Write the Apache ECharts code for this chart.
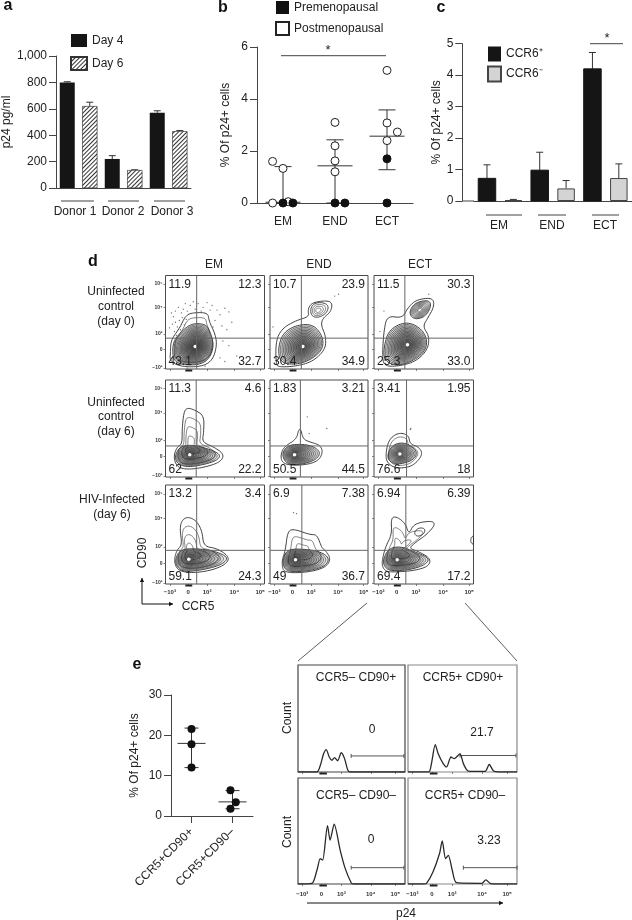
<!DOCTYPE html>
<html><head><meta charset="utf-8"><style>html,body{margin:0;background:#fff}#c{width:632px;height:920px}</style>
<script src="https://cdn.jsdelivr.net/npm/echarts@6/dist/echarts.min.js"></script></head>
<body><div id="c"></div><script>
// ---------- panel a
const aCats=['D1-4','D1-6','D2-4','D2-6','D3-4','D3-6'];
const aDay4=[800,null,220,null,570,null];
const aDay6=[null,620,null,135,null,430];
const aTops=[805,650,245,138,585,435];
const aGroups=['Donor 1','Donor 2','Donor 3'];
// ---------- panel b
const bCats=['EM','END','ECT'];
const bPost=[[0.3,1.6],[0.5,1.33],[0.3,0],[0.6,0.05],[1.5,3.1],[1.5,2.2],[1.5,1.62],[1.5,1.2],[2.5,5.1],[2.5,3.08],[2.7,2.73],[2.5,2.4]];
const bPre=[[0.5,0],[0.69,0],[1.5,0],[1.69,0],[2.5,1.7],[2.5,0]];
const bSummary=[[0.5,0,0.03,1.4],[1.5,0,1.43,2.43],[2.5,1.28,2.57,3.58]];
// ---------- panel c
const cCats=['EM+','EM-','END+','END-','ECT+','ECT-'];
const cPlus=[0.72,null,0.98,null,4.2,null];
const cMinus=[null,0.03,null,0.4,null,0.73];
const cTops=[1.15,0.05,1.55,0.65,4.72,1.18];
// ---------- panel d: quadrant percentages (UL, UR, LL, LR)
const dColumns=['EM','END','ECT'];
const dQuad=[
 ['11.9','12.3','43.1','32.7'],['10.7','23.9','30.4','34.9'],['11.5','30.3','25.3','33.0'],
 ['11.3','4.6','62','22.2'],['1.83','3.21','50.5','44.5'],['3.41','1.95','76.6','18'],
 ['13.2','3.4','59.1','24.3'],['6.9','7.38','49','36.7'],['6.94','6.39','69.4','17.2']];
const dGates=[[31.5,33],[32,33],[31,33],[31,32],[31,32],[32.7,32],[31.5,34],[32.5,34],[32,34]];
const dTickX=[4.4,22.8,42,69.5,95.6];
const dTickY=[1,21,37.5,66,91];
const dTickText=['−10³','0','10³','10⁴','10⁵'];
// contour outlines, in display channels (0–100)
const c00out=[[5,17],[5.4,31],[14.5,44],[20.6,58],[30,60.5],[43,60],[44,51],[50,38],[52,26],[48,10],[38,3],[21,2],[9.5,5],[4.4,10]];
const c00in=[[7,16],[8,30],[16,40],[24,47],[32,49],[42,47],[45,38],[49,26],[45,12],[36,5],[21,4],[10,7]];
const c01out=[[6,5],[6,31],[13,44],[27,52],[40,56],[38.5,63],[42,70.5],[54,73],[63.5,72],[62.5,61.5],[54,54.5],[52,47],[57,35],[56.6,21],[43.7,8],[27,3],[9.5,2]];
const c01in=[[8,21],[13,38.5],[27,47],[43.7,48],[54,35],[54,21],[42,10],[27,4.6],[11,6.4]];
const c01top=[[41,63],[44,70],[53,71.5],[60,68],[58,60],[50,55],[43,56]];
const c02out=[[8.4,15],[10,42],[13.5,57],[28.6,54.4],[33.7,65],[42,74],[59,76.5],[60.6,67],[54,54.4],[49,45.5],[55.6,35],[54,20.6],[42,8],[25,3],[10,3]];
const c02in=[[10,24],[15,42],[32,51],[47,44],[54,31],[50.5,17],[35,6.4],[20,3.5],[10,10]];
const c02top=[[35,60],[40.4,70.5],[54,74],[58,68.7],[52,56],[40.4,52.7]];
const c10out=[[8.4,22],[11.7,31],[16.8,34],[16.8,50],[18.5,67],[22,71.5],[30,69],[39,63],[38.6,46],[37,36],[48.7,31],[58.7,24],[57,17],[47,12],[28.5,8],[15,8.6],[10,13.7]];
const c10in=[[9.4,22],[15,32],[28.5,33],[45,28.5],[56,23],[52,17],[38.6,12.7],[22,10],[11.7,13.7]];
const c11out=[[10.8,22],[14,31],[27,39],[29,48],[31.3,50],[33.7,39],[41,36],[51,33],[54,26],[49.8,17],[38,12.7],[21,12],[12.5,14.7]];
const c11in=[[11.8,23],[17.5,32.6],[31,34],[44,32],[52,25],[46,17],[31,12.7],[17.5,12.7]];
const c12out=[[11.7,24],[15,39],[25,46],[35,43],[36,34],[45,31],[49,24],[43,15],[35,10],[21.7,9],[13,14.7]];
const c12in=[[13.4,23],[18.3,33],[30,36],[41.7,29],[43,22],[36.7,16],[23,12.7],[15,16.5]];
const c20out=[[9,26],[11.7,34.6],[16.8,39.6],[14.4,56],[16.8,65],[23.5,68],[32,63],[37,53],[38.6,38],[52,36],[64,28],[62.4,21],[49,14.4],[28.5,11],[15,12.8],[10,17.8]];
const c20in=[[10,26],[15,34.6],[28.5,36],[48.7,33.6],[64,27],[57,19.5],[38.6,14.4],[18.5,12],[11,17.8]];
const c21out=[[12.5,24.5],[15.8,34.6],[18,53],[24,55.7],[41,49.7],[48,50],[53,36],[56,34.6],[62,26],[58,17.8],[44.4,12.8],[24,11],[14,12.8],[12.5,17.8]];
const c21in=[[13,25],[17.5,34.6],[31,35.6],[51,33],[61,26],[56,17.8],[41,13.4],[21,12],[14,16]];
const c22out=[[8.3,24.5],[11.7,38],[18,50],[17,67],[23,68],[31.7,61],[35,50],[40,61],[58,64],[61.7,60],[53,50],[43,43],[35,36],[43,33.6],[57,26],[55,17.8],[40,13.4],[20,12],[11.7,12.8],[8.3,17.8]];
const c22in=[[9.3,25.5],[15,36],[26.7,38],[40,33],[56,26],[51.7,19.5],[36.7,14.4],[16.7,12.8],[10,17.8]];
const c22lobe=[[40,52],[45,57],[51.7,56],[50,50],[43,47.7]];
const c22edge=[[97,44],[98,47.5],[100,48.5],[100,40],[98,41]];
const dDots0=[[10,50],[12,45],[8,56],[14,52],[16,60],[13,66],[18,64],[20,70],[22,62],[25,68],[10,62],[7,48],[28,72],[33,70],[38,66],[42,71],[47,68],[52,63],[55,58],[60,65],[64,61],[50,52],[57,46],[48,45],[62,42],[17,55],[21,53],[15,42],[9,40],[30,64],[36,62],[45,63],[67,50],[55,12],[60,8],[72,14],[64,25],[40,3],[22,1],[58,30],[4,44],[11,36],[6,60],[19,47]];
const dDots=[dDots0,[[66,78],[70,80],[3,45]],[[10,62],[6,40],[55,80]],[],[[38,62],[40,45],[58,50]],[[37,50],[36.5,49]],[],[[24,72],[27,71]],[]];
// ---------- panel e
const eCats=['CCR5+CD90+','CCR5+CD90–'];
const ePoints=[[0.5,21.6],[0.5,17.8],[0.5,12],[1.45,6.4],[1.58,3.4],[1.45,1.8]];
const eSummary=[[0.5,12,18,21.8],[1.5,1.8,3.5,6.3]];
// ---------- histograms
const hTitles=['CCR5– CD90+','CCR5+ CD90+','CCR5– CD90–','CCR5+ CD90–'];
const hValues=['0','21.7','0','3.23'];
const histTL=[[0,0],[17.7,0],[20.8,6],[23.9,17],[26.4,21],[29.2,14],[31.7,11],[34.2,13.5],[37,10.5],[40.4,18],[43.5,12.5],[46.6,1.6],[48.8,0],[100,0]];
const histTR=[[0,0],[19,0],[21.5,7.8],[25,25.6],[27.7,17],[32.3,7.8],[35.4,4.7],[39.4,14],[42.5,12.5],[47.7,17],[50.8,7.8],[55.4,0.9],[70.8,0.6],[74.5,7],[78.5,0.9],[83,0],[100,0]];
const histBL=[[0,0],[13,0.6],[17.7,13],[20.8,24],[23,22.5],[27.6,55],[30,41.4],[33.8,56.4],[39.4,32],[44,15],[49.7,1.2],[52,0],[100,0]];
const histBR=[[0,0],[14,0],[17,0.6],[23,11.6],[29,29],[31.4,40.7],[34.5,24],[37,27],[40.6,13],[44.6,1.2],[67.7,0.6],[71.4,3.8],[75.4,0.6],[78,0],[100,0]];
const hGates=[[49.7,99,15],[47.7,99,15.4],[49.7,99,15.4],[50.8,100,15.4]];
const hTickX=[4,22,40.5,68,91];

const FONT='"Liberation Sans",Arial,sans-serif', INK='#222', AX='#444';
const grids=[],xA=[],yA=[],series=[],gfx=[];
function addGrid(l,t,w,h,x,y,extra){grids.push(Object.assign({left:l,top:t,width:w,height:h,containLabel:false},extra||{}));const i=grids.length-1;xA.push(Object.assign({gridIndex:i},x));yA.push(Object.assign({gridIndex:i},y));return i;}
function txt(x,y,t,o){o=o||{};gfx.push({type:'text',x,y,rotation:o.rot||0,silent:true,z:30,style:{text:t,fill:o.fill||INK,font:(o.weight||'normal')+' '+(o.size||12)+'px '+FONT,textAlign:o.align||'center',textVerticalAlign:'middle'}});}
function seg(x1,y1,x2,y2,c,w){gfx.push({type:'line',silent:true,z:5,shape:{x1,y1,x2,y2},style:{stroke:c||AX,lineWidth:w||1}});}
function arrow(x1,y1,x2,y2){seg(x1,y1,x2,y2,'#111',1);const a=Math.atan2(y2-y1,x2-x1),s=4.5;gfx.push({type:'polygon',silent:true,z:6,shape:{points:[[x2,y2],[x2-s*Math.cos(a-.5),y2-s*Math.sin(a-.5)],[x2-s*Math.cos(a+.5),y2-s*Math.sin(a+.5)]]},style:{fill:'#111'}});}
function custom(g,data,render,z){return {type:'custom',xAxisIndex:g,yAxisIndex:g,data,renderItem:render,silent:true,z:z||3,encode:{x:0,y:1},animation:false};}
const line=(a,b,c,w)=>({type:'line',shape:{x1:a[0],y1:a[1],x2:b[0],y2:b[1]},style:{stroke:c||'#333',lineWidth:w||1}});
const yBase=(o)=>Object.assign({type:'value',axisLine:{show:true,lineStyle:{color:AX,width:1}},axisTick:{show:true,length:7,lineStyle:{color:AX}},splitLine:{show:false},axisLabel:{color:INK,fontSize:12,fontFamily:FONT,margin:9},nameLocation:'middle',nameTextStyle:{color:INK,fontSize:12,fontFamily:FONT}},o);
function errRender(g,i,api){const x=api.value(0),top=api.value(1),v=api.value(2);const a=api.coord([x,v]),b=api.coord([x,top]);return {type:'group',children:[line(a,b),line([b[0]-3.5,b[1]],[b[0]+3.5,b[1]])]};}
function sumRender(medHalf,capHalf,p,api){const x=api.value(0),lo=api.value(1),mid=api.value(2),hi=api.value(3);const L=api.coord([x,lo]),M=api.coord([x,mid]),H=api.coord([x,hi]);return {type:'group',children:[line(L,H),line([L[0]-capHalf,L[1]],[L[0]+capHalf,L[1]]),line([H[0]-capHalf,H[1]],[H[0]+capHalf,H[1]]),line([M[0]-medHalf,M[1]],[M[0]+medHalf,M[1]])]};}

// ===== a
const gA=addGrid(56,56,135,132,
 {type:'category',data:aCats,axisLine:{lineStyle:{color:AX}},axisTick:{alignWithLabel:true,length:7,lineStyle:{color:AX}},axisLabel:{show:false}},
 yBase({min:0,max:1000,interval:200,name:'p24 pg/ml',nameGap:41,axisLabel:{color:INK,fontSize:12,fontFamily:FONT,margin:9,formatter:v=>v.toLocaleString('en-US')}}));
series.push({type:'bar',name:'Day 4',xAxisIndex:gA,yAxisIndex:gA,data:aDay4,barWidth:15,barGap:'-100%',itemStyle:{color:'#151515'},animation:false});
series.push({type:'bar',name:'Day 6',xAxisIndex:gA,yAxisIndex:gA,data:aDay6,barWidth:15,barGap:'-100%',animation:false,itemStyle:{color:'#fff',borderColor:'#333',borderWidth:.5,decal:{symbol:'rect',dashArrayX:[1,0],dashArrayY:[1,2],rotation:-Math.PI/4,color:'#333',backgroundColor:'#fff'}}});
series.push(custom(gA,aTops.map((t,i)=>[i,t,(aDay4[i]!==null?aDay4[i]:aDay6[i])]),(p,api)=>errRender(gA,p.dataIndex,api),1));
[[61,94,75],[108,139,123],[154,185,172]].forEach((u,i)=>{seg(u[0],201,u[1],201);txt(u[2],212,aGroups[i]);});

// ===== b
const gB=addGrid(257,47,156,156,
 {type:'value',min:0,max:3,axisLine:{lineStyle:{color:AX}},axisTick:{show:false},splitLine:{show:false},axisLabel:{customValues:[0.5,1.5,2.5],color:INK,fontSize:12,fontFamily:FONT,margin:13,formatter:v=>bCats[Math.round(v-0.5)]}},
 yBase({min:0,max:6,interval:2,name:'% Of p24+ cells',nameGap:25}));
series.push(custom(gB,bSummary,(p,api)=>sumRender(17.5,8.5,p,api),1));
series.push({type:'scatter',name:'Postmenopausal',xAxisIndex:gB,yAxisIndex:gB,data:bPost,symbolSize:8,z:4,animation:false,itemStyle:{color:'#fff',borderColor:'#222',borderWidth:1,opacity:1}});
series.push({type:'scatter',name:'Premenopausal',xAxisIndex:gB,yAxisIndex:gB,data:bPre,symbolSize:8,z:4,animation:false,itemStyle:{color:'#111',borderColor:'#111',opacity:1}});
seg(281,55.7,386,55.7);txt(328,50,'*',{size:13});

// ===== c
const gC=addGrid(473.8,43.7,158.2,157.3,
 {type:'category',data:cCats,axisLine:{lineStyle:{color:AX}},axisTick:{alignWithLabel:true,length:7,lineStyle:{color:AX}},axisLabel:{show:false}},
 yBase({min:0,max:5,interval:1,offset:11.5,name:'% Of p24+ cells',nameGap:15}));
series.push({type:'bar',name:'CCR6⁺',xAxisIndex:gC,yAxisIndex:gC,data:cPlus,barWidth:17.5,barGap:'-100%',animation:false,itemStyle:{color:'#151515',borderColor:'#151515'}});
series.push({type:'bar',name:'CCR6⁻',xAxisIndex:gC,yAxisIndex:gC,data:cMinus,barWidth:17.5,barGap:'-100%',animation:false,itemStyle:{color:'#d4d4d4',borderColor:'#444',borderWidth:1}});
series.push(custom(gC,cTops.map((t,i)=>[i,t,(cPlus[i]!==null?cPlus[i]:cMinus[i])]),(p,api)=>errRender(gC,p.dataIndex,api),1));
seg(462.5,201,474,201);
[[486,522,499],[538,566,552],[592,619,605]].forEach((u,i)=>{seg(u[0],215,u[1],215);txt(u[2],226,bCats[i]);});
seg(590,43.7,623,43.7);txt(607,38,'*',{size:13});

// ===== e
const gE=addGrid(171,695,82,121,
 {type:'value',min:0,max:2,axisLine:{lineStyle:{color:AX}},splitLine:{show:false},axisTick:{customValues:[0.5,1.5],length:7,lineStyle:{color:AX}},axisLabel:{customValues:[0.5,1.5],rotate:45,color:INK,fontSize:12,fontFamily:FONT,margin:14,formatter:v=>eCats[Math.round(v-0.5)]}},
 yBase({min:0,max:30,interval:10,name:'% Of p24+ cells',nameGap:30}));
series.push(custom(gE,eSummary,(p,api)=>sumRender(14,7,p,api),1));
series.push({type:'scatter',xAxisIndex:gE,yAxisIndex:gE,data:ePoints,symbolSize:8,z:4,animation:false,itemStyle:{color:'#111',opacity:1}});

// ===== d
const colX=[[165.5,99],[270,98],[374,99.5]],rowY=[[275.5,93.5],[380,97],[485,99]];
const lobes=[
 [{p:c00out,n:2,c:[30,30]},{p:c00in,n:17,c:[30,24],peak:1}],
 [{p:c01out,n:1,c:[33,28]},{p:c01in,n:14,c:[33.5,24],peak:1},{p:c01top,n:4,c:[49,62.6]}],
 [{p:c02out,n:1,c:[33,28]},{p:c02in,n:15,c:[33.7,26],peak:1},{p:c02top,n:9,c:[46,63]}],
 [{p:c10out,n:4,c:[25,30]},{p:c10in,n:12,c:[24.5,23],peak:1}],
 [{p:c11out,n:1,c:[28,25]},{p:c11in,n:12,c:[25,23],peak:1}],
 [{p:c12out,n:2,c:[26,24]},{p:c12in,n:11,c:[26,23.7],peak:1}],
 [{p:c20out,n:4,c:[24,30]},{p:c20in,n:12,c:[23.5,25],peak:1}],
 [{p:c21out,n:3,c:[32.6,32]},{p:c21in,n:13,c:[26,24.5],peak:1}],
 [{p:c22out,n:3,c:[23,33]},{p:c22in,n:12,c:[23.3,24.5],peak:1},{p:c22lobe,n:1,c:[45,52]},{p:c22edge,n:1,c:[98,44]}]
];
function rounded(pts){let cur=pts;for(let it=0;it<3;it++){const nx=[];for(let i=0;i<cur.length;i++){const a=cur[i],b=cur[(i+1)%cur.length];nx.push([a[0]*.75+b[0]*.25,a[1]*.75+b[1]*.25],[a[0]*.25+b[0]*.75,a[1]*.25+b[1]*.75]);}cur=nx;}return cur;}
function lobeRender(list){return (p,api)=>{const l=list[p.dataIndex],ch=[],fine=l.peak;
 for(let k=0;k<l.n;k++){const t=(l.n===1?0:k/l.n)*(l.n>2?0.93:0.35);
  const pts=rounded(l.p).map(q=>api.coord([q[0]+(l.c[0]-q[0])*t,q[1]+(l.c[1]-q[1])*t]));
  ch.push({type:'polygon',shape:{points:pts},style:{fill:fine?'rgba(30,30,30,0.07)':'none',stroke:'#2a2a2a',lineWidth:k===0?0.9:0.6}});}
 if(l.peak){const c=api.coord(l.c);ch.push({type:'circle',shape:{cx:c[0],cy:c[1],r:1.7},style:{fill:'#fff',stroke:'none'}});}
 return {type:'group',children:ch};};}
const rug=(api)=>{const a=api.coord([20,0]),b=api.coord([27,0]);return line([a[0],a[1]+1.5],[b[0],b[1]+1.5],'#222',2);};
for(let r=0;r<3;r++)for(let c=0;c<3;c++){
 const idx=r*3+c,fx=colX[c],fy=rowY[r];
 const g=addGrid(fx[0],fy[0],fx[1],fy[1],
  {type:'value',min:0,max:100,splitLine:{show:false},axisLine:{show:false},axisTick:{customValues:dTickX,length:2,lineStyle:{color:'#555',width:.7}},axisLabel:r===2?{customValues:dTickX,color:'#333',fontSize:6,fontWeight:'bold',fontFamily:FONT,margin:5,formatter:v=>dTickText[dTickX.indexOf(v)]}:{show:false}},
  {type:'value',min:0,max:100,splitLine:{show:false},axisLine:{show:false},axisTick:{customValues:dTickY,length:2,lineStyle:{color:'#555',width:.7}},axisLabel:c===0?{customValues:dTickY,color:'#333',fontSize:5,fontWeight:'bold',fontFamily:FONT,margin:3,formatter:v=>dTickText[dTickY.indexOf(v)]}:{show:false}},
  {show:true,borderColor:'#4a4a4a',borderWidth:1,backgroundColor:'#fff'});
 if(dDots[idx].length)series.push({type:'scatter',xAxisIndex:g,yAxisIndex:g,data:dDots[idx],symbolSize:1.3,animation:false,silent:true,itemStyle:{color:'#666',opacity:1},z:1});
 const list=lobes[idx];
 series.push(custom(g,list.map(l=>l.c),lobeRender(list),2));
 series.push(custom(g,[dGates[idx]],(p,api)=>{const gx=api.value(0),gy=api.value(1);return {type:'group',children:[line(api.coord([gx,0]),api.coord([gx,100]),'#666',1),line(api.coord([0,gy]),api.coord([100,gy]),'#666',1),rug(api)]};},3));
 const q=dQuad[idx],L=fx[0]+3,R=fx[0]+fx[1]-3,T=fy[0]+9,B=fy[0]+fy[1]-7;
 txt(L,T,q[0],{align:'left'});txt(R,T,q[1],{align:'right'});txt(L,B,q[2],{align:'left'});txt(R,B,q[3],{align:'right'});
}
txt(214,265,dColumns[0]);txt(319,265,dColumns[1]);txt(420,265,dColumns[2]);
[['Uninfected',116,292],['control',116,307],['(day 0)',116,322],['Uninfected',116,403],['control',116,417],['(day 6)',116,432],['HIV-Infected',112,500],['(day 6)',112,515]].forEach(a=>txt(a[1],a[2],a[0]));
txt(143,553,'CD90',{rot:Math.PI/2});txt(198,607,'CCR5');
arrow(142,604,142,578);arrow(142,604,173,604);
seg(367,603,298,661,'#333',.8);seg(465,603,517,661,'#333',.8);

// ===== histograms
const hFrames=[[298,665,107,107,'#444'],[408,665,109,107,'#888'],[298,778,107,106,'#444'],[408,778,109,106,'#888']];
const hData=[histTL,histTR,histBL,histBR];
const hCenters=[356,463,356,465],hValPos=[[372,730],[482,733],[371,840],[489,841]],hTitleY=[678,678,796,796];
hFrames.forEach((f,i)=>{
 const g=addGrid(f[0],f[1],f[2],f[3],
  {type:'value',min:0,max:100,splitLine:{show:false},axisLine:{show:false},axisTick:{customValues:hTickX,length:2,lineStyle:{color:'#555',width:.7}},axisLabel:i>=2?{customValues:hTickX,color:'#333',fontSize:6,fontWeight:'bold',fontFamily:FONT,margin:7,formatter:v=>dTickText[hTickX.indexOf(v)]}:{show:false}},
  {type:'value',min:0,max:100,splitLine:{show:false},axisLine:{show:false},axisTick:{show:false},axisLabel:{show:false}},
  {show:true,borderColor:f[4],borderWidth:1.2,backgroundColor:'#fff'});
 series.push({type:'line',xAxisIndex:g,yAxisIndex:g,data:hData[i],showSymbol:false,smooth:0.25,animation:false,silent:true,lineStyle:{color:'#2a2a2a',width:1.3}});
 series.push(custom(g,[hGates[i]],(p,api)=>{const a=api.coord([api.value(0),api.value(2)]),b=api.coord([api.value(1),api.value(2)]);return {type:'group',children:[line(a,b,'#555',1),line([a[0],a[1]-2],[a[0],a[1]+2],'#555',1),line([b[0],b[1]-2],[b[0],b[1]+2],'#555',1),rug(api)]};},3));
 txt(hCenters[i],hTitleY[i],hTitles[i]);txt(hValPos[i][0],hValPos[i][1],hValues[i]);
});
txt(288,718,'Count',{rot:Math.PI/2});txt(288,832,'Count',{rot:Math.PI/2});
arrow(307,903,503,903);txt(406,914,'p24');

// panel letters
[['a',8,6],['b',223,8],['c',441,8],['d',93,262],['e',137,665]].forEach(a=>txt(a[1],a[2],a[0],{weight:'bold',size:16,fill:'#111'}));

const legText={color:INK,fontSize:12,fontFamily:FONT};
const chart=echarts.init(document.getElementById('c'),null,{renderer:'canvas'});
chart.setOption({animation:false,backgroundColor:'#fff',grid:grids,xAxis:xA,yAxis:yA,series,
 legend:[
  {data:[{name:'Day 4',icon:'rect'},{name:'Day 6',icon:'rect'}],left:70,top:34,orient:'vertical',itemWidth:16,itemHeight:13,itemGap:9,textStyle:legText,padding:0,selectedMode:false},
  {data:[{name:'Premenopausal',icon:'rect'},{name:'Postmenopausal',icon:'rect'}],left:275,top:1,orient:'vertical',itemWidth:13,itemHeight:13,itemGap:7,textStyle:legText,padding:0,selectedMode:false},
  {data:[{name:'CCR6⁺',icon:'rect'},{name:'CCR6⁻',icon:'rect'}],left:487,top:46.5,orient:'vertical',itemWidth:13,itemHeight:15,itemGap:4,textStyle:legText,padding:0,selectedMode:false}
 ],
 graphic:{elements:gfx}});
</script></body></html>
